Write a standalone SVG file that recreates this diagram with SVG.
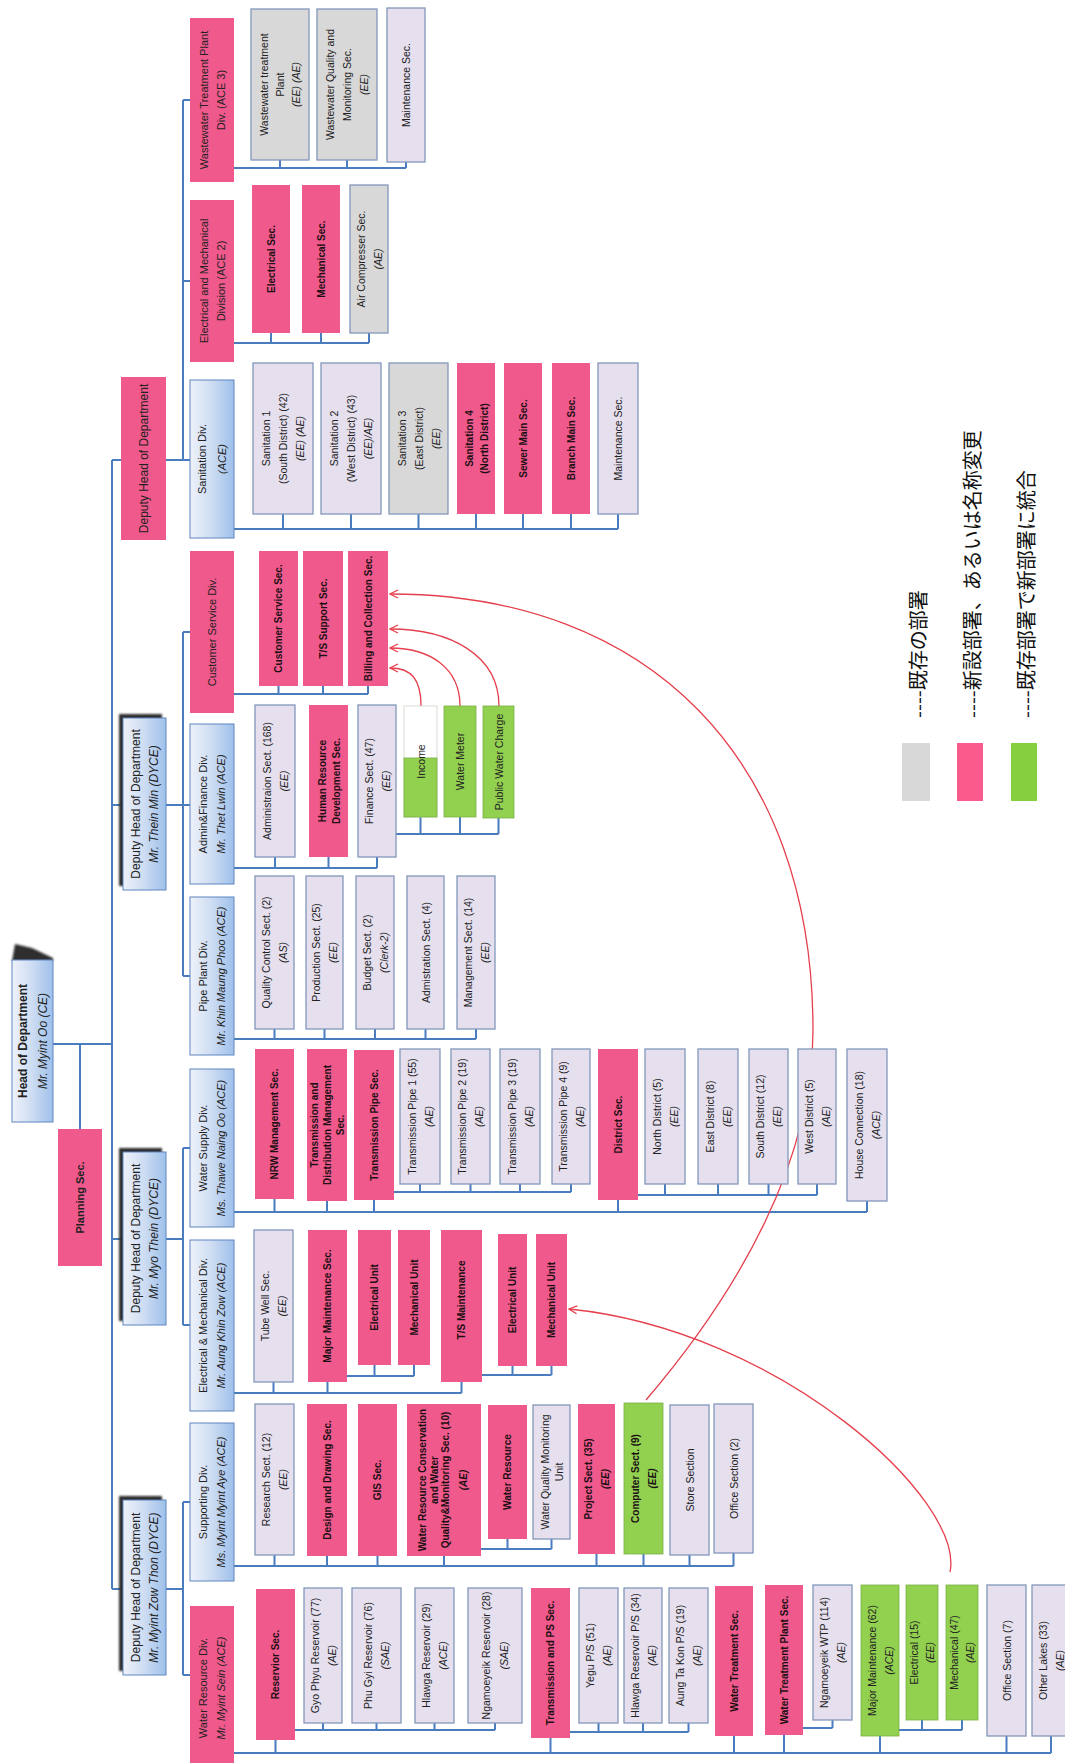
<svg xmlns="http://www.w3.org/2000/svg" width="1065" height="1763" viewBox="0 0 1065 1763">
<style>
text{font-family:"Liberation Sans",Arial,sans-serif;text-anchor:middle;dominant-baseline:central;fill:#222}
tspan{dominant-baseline:central}
.s{font-size:10.5px}
.b{font-size:10px;font-weight:bold;fill:#1c1014}
.d{font-size:11px}
.h{font-size:12px}
.i{font-style:italic}
.w{font-weight:bold}
.pk{fill:#f0598c}
.lv{fill:#e5dfee;stroke:#8397bb;stroke-width:1.3}
.gy{fill:#d8d8d8;stroke:#8397bb;stroke-width:1.3}
.gr{fill:#92d050;stroke:#7aae45;stroke-width:0.8}
.wh{fill:#ffffff;stroke:#cfd6c8;stroke-width:0.8}
.dv{fill:url(#blu);stroke:#5f86c2;stroke-width:1}
.sh{fill:#2e2e2e;filter:url(#blur)}
#connectors path{fill:none;stroke:#4a7cc0;stroke-width:2}
#arrows path{fill:none;stroke:#e5404d;stroke-width:1.3;marker-end:url(#ah)}
.jp{font-family:"Noto Sans CJK JP",sans-serif;font-size:20px;text-anchor:start;fill:#111}
</style>
<defs>
<linearGradient id="blu" x1="0" y1="0" x2="1" y2="0">
<stop offset="0" stop-color="#eef2fa"/>
<stop offset="0.5" stop-color="#cddcf2"/>
<stop offset="1" stop-color="#9ec0ea"/>
</linearGradient>
<filter id="blur" x="-20%" y="-20%" width="140%" height="140%"><feGaussianBlur stdDeviation="1.2"/></filter>
<marker id="ah" viewBox="0 0 10 10" refX="9" refY="5" markerWidth="10" markerHeight="10" markerUnits="userSpaceOnUse" orient="auto">
<path d="M1,1 L9,5 L1,9" fill="none" stroke="#e5404d" stroke-width="1.3"/>
</marker>
</defs>
<rect x="0" y="0" width="1065" height="1763" fill="#ffffff"/>

<!-- reporting lines -->
<g id="connectors">
<path d="M53,1044H112 M80,1044V1129 M112,460V1589 M112,460H121 M112,805H123 M112,1239H123 M112,1589H123"/>
<path d="M166,460H183 M183,100V460 M183,100H190 M183,281H190 M183,460H190"/>
<path d="M166,805H190 M183,632V976 M183,632H190 M183,976H190"/>
<path d="M166,1239H183 M183,1148V1325 M183,1148H190 M183,1325H190"/>
<path d="M166,1589H183 M183,1502V1675 M183,1502H190 M183,1675H190"/>
<path d="M234,168H406 M280,160V168 M347,160V168 M406,162V168"/>
<path d="M234,343H369 M271,333V343 M321,333V343 M369,333V343"/>
<path d="M234,529H618 M283,514V529 M351,514V529 M418.5,514V529 M476,514V529 M523,514V529 M571,514V529 M618,514V529"/>
<path d="M234,694H368 M278.5,686V694 M323,686V694 M368,686V694"/>
<path d="M234,868H377 M275,857V868 M328.5,857V868 M377,857V868"/>
<path d="M396,834H498.5 M420.5,817V834 M460,817V834 M498.5,818V834"/>
<path d="M234,1039H476 M274.5,1029V1039 M324.5,1029V1039 M375,1029V1039 M425.5,1029V1039 M476,1029V1039"/>
<path d="M234,1212H867 M274.5,1199V1212 M327,1201V1212 M374,1200V1212 M618,1200V1212 M867,1201V1212"/>
<path d="M394,1192H571 M420,1184V1192 M470.5,1184V1192 M520,1184V1192 M571,1184V1192"/>
<path d="M638,1195H817 M665,1184V1195 M718,1184V1195 M768.5,1184V1195 M817,1184V1195"/>
<path d="M234,1393H461.5 M273.5,1382V1393 M327.5,1382V1393 M461.5,1382V1393"/>
<path d="M347,1376H414 M374.5,1365V1376 M414,1365V1376"/>
<path d="M482,1375H551.5 M512.5,1366V1375 M551.5,1366V1375"/>
<path d="M234,1566H733.5 M274.5,1555V1566 M327,1556V1566 M377.5,1556V1566 M444,1556V1566 M596.5,1554V1566 M643.5,1554V1566 M689.5,1555V1566 M733.5,1553V1566"/>
<path d="M481,1549H551.5 M507.5,1539V1549 M551.5,1539V1549"/>
<path d="M234,1753H1051 M275.5,1740V1753 M550.5,1738V1753 M734,1736V1753 M784,1735V1753 M880,1736V1753 M1006.5,1736V1753 M1051,1736V1753"/>
<path d="M295,1730H495 M323,1723V1730 M376.5,1723V1730 M434.5,1723V1730 M495,1723V1730"/>
<path d="M570,1732H688.5 M598.5,1723V1732 M643,1723V1732 M688.5,1723V1732"/>
<path d="M803,1728H832.5 M832.5,1720V1728"/>
<path d="M899,1730H962 M922,1720V1730 M962,1720V1730"/>
</g>

<!-- transfer arrows -->
<g id="arrows">
<path d="M646,1400 C740,1290 813,1160 813,1030 C813,760 650,594 390,594"/>
<path d="M950,1572 C965,1500 780,1330 569,1309"/>
<path d="M421,706 C421,680 412,668 390,668"/>
<path d="M460,706 C460,668 430,648 390,648"/>
<path d="M499,706 C499,655 450,629 390,629"/>
</g>

<!-- top management -->
<g id="head">
<polygon class="sh" points="12,961 15,944 32,948 53,958 53,961"/>
<rect class="dv" x="12" y="960" width="41" height="162"/>
<text class="h" transform="translate(32.5,1041) rotate(-90)"><tspan class="w" x="0" y="-10">Head of Department</tspan><tspan class="i" x="0" y="10">Mr. Myint Oo (CE)</tspan></text>
</g>
<g id="planning">
<rect class="pk" x="58" y="1129" width="44" height="137"/>
<text class="d w" transform="translate(80,1197.5) rotate(-90)">Planning Sec.</text>
</g>
<g id="deputy-0">
<rect class="pk" x="121" y="377" width="45" height="163"/>
<text class="h" transform="translate(143.5,458.5) rotate(-90)">Deputy Head of Department</text>
</g>
<g id="deputy-1">
<rect class="sh" x="119" y="714" width="43" height="172"/>
<rect class="dv" x="123" y="718" width="43" height="172"/>
<text class="h" transform="translate(144.5,804) rotate(-90)"><tspan x="0" y="-9">Deputy Head of Department</tspan><tspan class="i" x="0" y="9">Mr. Thein Min (DYCE)</tspan></text>
</g>
<g id="deputy-2">
<rect class="sh" x="119" y="1148" width="43" height="173"/>
<rect class="dv" x="123" y="1152" width="43" height="173"/>
<text class="h" transform="translate(144.5,1238.5) rotate(-90)"><tspan x="0" y="-9">Deputy Head of Department</tspan><tspan class="i" x="0" y="9">Mr. Myo Thein (DYCE)</tspan></text>
</g>
<g id="deputy-3">
<rect class="sh" x="119" y="1496" width="43" height="175"/>
<rect class="dv" x="123" y="1500" width="43" height="175"/>
<text class="h" transform="translate(144.5,1587.5) rotate(-90)"><tspan x="0" y="-9">Deputy Head of Department</tspan><tspan class="i" x="0" y="9">Mr. Myint Zow Thon (DYCE)</tspan></text>
</g>

<!-- divisions -->
<g id="div-wwtp">
<rect class="pk" x="190" y="18" width="44" height="164"/>
<text class="d" transform="translate(212,100) rotate(-90)"><tspan x="0" y="-8.5">Wastewater Treatment Plant</tspan><tspan x="0" y="8.5">Div. (ACE 3)</tspan></text>
</g>
<g id="div-em2">
<rect class="pk" x="190" y="200" width="44" height="162"/>
<text class="d" transform="translate(212,281) rotate(-90)"><tspan x="0" y="-8.5">Electrical and Mechanical</tspan><tspan x="0" y="8.5">Division (ACE 2)</tspan></text>
</g>
<g id="div-sanitation">
<rect class="dv" x="190" y="380" width="44" height="158"/>
<text class="d" transform="translate(212,459) rotate(-90)"><tspan x="0" y="-10">Sanitation Div.</tspan><tspan class="i" x="0" y="10">(ACE)</tspan></text>
</g>
<g id="div-customer">
<rect class="pk" x="190" y="551" width="44" height="162"/>
<text class="d" transform="translate(212,632) rotate(-90)">Customer Service Div.</text>
</g>
<g id="div-admin">
<rect class="dv" x="190" y="724" width="44" height="160"/>
<text class="d" transform="translate(212,804) rotate(-90)"><tspan x="0" y="-9">Admin&amp;Finance Div.</tspan><tspan class="i" x="0" y="9">Mr. Thet Lwin (ACE)</tspan></text>
</g>
<g id="div-pipe">
<rect class="dv" x="190" y="897" width="44" height="158"/>
<text class="d" transform="translate(212,976) rotate(-90)"><tspan x="0" y="-9">Pipe Plant Div.</tspan><tspan class="i" x="0" y="9">Mr. Khin Maung Phoo (ACE)</tspan></text>
</g>
<g id="div-supply">
<rect class="dv" x="190" y="1069" width="44" height="158"/>
<text class="d" transform="translate(212,1148) rotate(-90)"><tspan x="0" y="-9">Water Supply Div.</tspan><tspan class="i" x="0" y="9">Ms. Thawe Naing Oo (ACE)</tspan></text>
</g>
<g id="div-em">
<rect class="dv" x="190" y="1240" width="44" height="171"/>
<text class="d" transform="translate(212,1325.5) rotate(-90)"><tspan x="0" y="-9">Electrical &amp; Mechanical Div.</tspan><tspan class="i" x="0" y="9">Mr. Aung Khin Zow (ACE)</tspan></text>
</g>
<g id="div-supporting">
<rect class="dv" x="190" y="1423" width="44" height="158"/>
<text class="d" transform="translate(212,1502) rotate(-90)"><tspan x="0" y="-9">Supporting Div.</tspan><tspan class="i" x="0" y="9">Ms. Myint Myint Aye (ACE)</tspan></text>
</g>
<g id="div-resource">
<rect class="pk" x="190" y="1606" width="44" height="164"/>
<text class="d" transform="translate(212,1688) rotate(-90)"><tspan x="0" y="-9">Water Resource Div.</tspan><tspan class="i" x="0" y="9">Mr. Myint Sein (ACE)</tspan></text>
</g>

<!-- wastewater treatment plant sections -->
<g id="ww-plant">
<rect class="gy" x="251" y="9" width="58" height="151"/>
<text class="s" transform="translate(280,84.5) rotate(-90)"><tspan x="0" y="-16">Wastewater treatment</tspan><tspan x="0" y="0">Plant</tspan><tspan class="i" x="0" y="16">(EE) (AE)</tspan></text>
</g>
<g id="ww-quality">
<rect class="gy" x="317" y="9" width="60" height="151"/>
<text class="s" transform="translate(347,84.5) rotate(-90)"><tspan x="0" y="-17">Wastewater Quality and</tspan><tspan x="0" y="0">Monitoring Sec.</tspan><tspan class="i" x="0" y="17">(EE)</tspan></text>
</g>
<g id="ww-maint">
<rect class="lv" x="387" y="8" width="38" height="154"/>
<text class="s" transform="translate(406,85) rotate(-90)">Maintenance Sec.</text>
</g>

<!-- electrical and mechanical (ACE 2) sections -->
<g id="em2-elec">
<rect class="pk" x="252" y="185" width="38" height="148"/>
<text class="b" transform="translate(271,259) rotate(-90)">Electrical Sec.</text>
</g>
<g id="em2-mech">
<rect class="pk" x="302" y="185" width="38" height="148"/>
<text class="b" transform="translate(321,259) rotate(-90)">Mechanical Sec.</text>
</g>
<g id="em2-air">
<rect class="gy" x="350" y="185" width="38" height="148"/>
<text class="s" transform="translate(369,259) rotate(-90)"><tspan x="0" y="-8.5">Air Compresser Sec.</tspan><tspan class="i" x="0" y="8.5">(AE)</tspan></text>
</g>

<!-- sanitation sections -->
<g id="san-1">
<rect class="lv" x="253" y="363" width="60" height="151"/>
<text class="s" transform="translate(283,438.5) rotate(-90)"><tspan x="0" y="-17">Sanitation 1</tspan><tspan x="0" y="0">(South District) (42)</tspan><tspan class="i" x="0" y="17">(EE) (AE)</tspan></text>
</g>
<g id="san-2">
<rect class="lv" x="321" y="363" width="60" height="151"/>
<text class="s" transform="translate(351,438.5) rotate(-90)"><tspan x="0" y="-17">Sanitation 2</tspan><tspan x="0" y="0">(West District) (43)</tspan><tspan class="i" x="0" y="17">(EE)/AE)</tspan></text>
</g>
<g id="san-3">
<rect class="gy" x="389" y="363" width="59" height="151"/>
<text class="s" transform="translate(418.5,438.5) rotate(-90)"><tspan x="0" y="-17">Sanitation 3</tspan><tspan x="0" y="0">(East District)</tspan><tspan class="i" x="0" y="17">(EE)</tspan></text>
</g>
<g id="san-4">
<rect class="pk" x="457" y="363" width="38" height="151"/>
<text class="b" transform="translate(476,438.5) rotate(-90)"><tspan x="0" y="-7.5">Sanitation 4</tspan><tspan x="0" y="7.5">(North District)</tspan></text>
</g>
<g id="san-sewer">
<rect class="pk" x="504" y="363" width="38" height="151"/>
<text class="b" transform="translate(523,438.5) rotate(-90)">Sewer Main Sec.</text>
</g>
<g id="san-branch">
<rect class="pk" x="552" y="363" width="38" height="151"/>
<text class="b" transform="translate(571,438.5) rotate(-90)">Branch Main Sec.</text>
</g>
<g id="san-maint">
<rect class="lv" x="598" y="363" width="40" height="151"/>
<text class="s" transform="translate(618,438.5) rotate(-90)">Maintenance Sec.</text>
</g>

<!-- customer service sections -->
<g id="cs-sec">
<rect class="pk" x="259" y="551" width="39" height="135"/>
<text class="b" transform="translate(278.5,618.5) rotate(-90)">Customer Service Sec.</text>
</g>
<g id="cs-ts">
<rect class="pk" x="303" y="551" width="40" height="135"/>
<text class="b" transform="translate(323,618.5) rotate(-90)">T/S Support Sec.</text>
</g>
<g id="cs-billing">
<rect class="pk" x="348" y="551" width="40" height="135"/>
<text class="b" transform="translate(368,618.5) rotate(-90)">Billing and Collection Sec.</text>
</g>

<!-- admin and finance sections -->
<g id="af-admin">
<rect class="lv" x="255" y="705" width="40" height="152"/>
<text class="s" transform="translate(275,781) rotate(-90)"><tspan x="0" y="-8.5">Administraion Sect. (168)</tspan><tspan class="i" x="0" y="8.5">(EE)</tspan></text>
</g>
<g id="af-hrd">
<rect class="pk" x="309" y="705" width="39" height="152"/>
<text class="b" transform="translate(328.5,781) rotate(-90)"><tspan x="0" y="-7">Human Resource</tspan><tspan x="0" y="7">Development Sec.</tspan></text>
</g>
<g id="af-finance">
<rect class="lv" x="358" y="705" width="38" height="152"/>
<text class="s" transform="translate(377,781) rotate(-90)"><tspan x="0" y="-8.5">Finance Sect. (47)</tspan><tspan class="i" x="0" y="8.5">(EE)</tspan></text>
</g>
<g id="fin-income">
<rect class="wh" x="404" y="706" width="33" height="111"/>
<rect class="gr" x="404" y="758" width="33" height="59"/>
<text class="s" transform="translate(420.5,761.5) rotate(-90)">Income</text>
</g>
<g id="fin-meter">
<rect class="gr" x="444" y="706" width="32" height="111"/>
<text class="s" transform="translate(460,761.5) rotate(-90)">Water Meter</text>
</g>
<g id="fin-charge">
<rect class="gr" x="483" y="706" width="31" height="112"/>
<text class="s" transform="translate(498.5,762) rotate(-90)">Public Water Charge</text>
</g>

<!-- pipe plant sections -->
<g id="pp-qc">
<rect class="lv" x="255" y="876" width="39" height="153"/>
<text class="s" transform="translate(274.5,952.5) rotate(-90)"><tspan x="0" y="-8.5">Quality Control Sect. (2)</tspan><tspan class="i" x="0" y="8.5">(AS)</tspan></text>
</g>
<g id="pp-prod">
<rect class="lv" x="306" y="876" width="37" height="153"/>
<text class="s" transform="translate(324.5,952.5) rotate(-90)"><tspan x="0" y="-8.5">Production Sect. (25)</tspan><tspan class="i" x="0" y="8.5">(EE)</tspan></text>
</g>
<g id="pp-budget">
<rect class="lv" x="356" y="876" width="38" height="153"/>
<text class="s" transform="translate(375,952.5) rotate(-90)"><tspan x="0" y="-8.5">Budget Sect. (2)</tspan><tspan class="i" x="0" y="8.5">(Clerk-2)</tspan></text>
</g>
<g id="pp-admin">
<rect class="lv" x="407" y="876" width="37" height="153"/>
<text class="s" transform="translate(425.5,952.5) rotate(-90)">Admistration Sect. (4)</text>
</g>
<g id="pp-mgmt">
<rect class="lv" x="457" y="876" width="38" height="153"/>
<text class="s" transform="translate(476,952.5) rotate(-90)"><tspan x="0" y="-8.5">Management Sect. (14)</tspan><tspan class="i" x="0" y="8.5">(EE)</tspan></text>
</g>

<!-- water supply sections -->
<g id="ws-nrw">
<rect class="pk" x="255" y="1049" width="39" height="150"/>
<text class="b" transform="translate(274.5,1124) rotate(-90)">NRW Management Sec.</text>
</g>
<g id="ws-tdm">
<rect class="pk" x="307" y="1049" width="40" height="152"/>
<text class="b" transform="translate(327,1125) rotate(-90)"><tspan x="0" y="-13">Transmission and</tspan><tspan x="0" y="0">Distribution Management</tspan><tspan x="0" y="13">Sec.</tspan></text>
</g>
<g id="ws-tps">
<rect class="pk" x="354" y="1050" width="40" height="150"/>
<text class="b" transform="translate(374,1125) rotate(-90)">Transmission Pipe Sec.</text>
</g>
<g id="ws-tp1">
<rect class="lv" x="400" y="1049" width="40" height="135"/>
<text class="s" transform="translate(420,1116.5) rotate(-90)"><tspan x="0" y="-8.5">Transmission Pipe 1 (55)</tspan><tspan class="i" x="0" y="8.5">(AE)</tspan></text>
</g>
<g id="ws-tp2">
<rect class="lv" x="451" y="1049" width="39" height="135"/>
<text class="s" transform="translate(470.5,1116.5) rotate(-90)"><tspan x="0" y="-8.5">Transmission Pipe 2 (19)</tspan><tspan class="i" x="0" y="8.5">(AE)</tspan></text>
</g>
<g id="ws-tp3">
<rect class="lv" x="500" y="1049" width="40" height="135"/>
<text class="s" transform="translate(520,1116.5) rotate(-90)"><tspan x="0" y="-8.5">Transmission Pipe 3 (19)</tspan><tspan class="i" x="0" y="8.5">(AE)</tspan></text>
</g>
<g id="ws-tp4">
<rect class="lv" x="552" y="1049" width="38" height="135"/>
<text class="s" transform="translate(571,1116.5) rotate(-90)"><tspan x="0" y="-8.5">Transmission Pipe 4 (9)</tspan><tspan class="i" x="0" y="8.5">(AE)</tspan></text>
</g>
<g id="ws-district">
<rect class="pk" x="598" y="1049" width="40" height="151"/>
<text class="b" transform="translate(618,1124.5) rotate(-90)">District Sec.</text>
</g>
<g id="ws-north">
<rect class="lv" x="645" y="1049" width="40" height="135"/>
<text class="s" transform="translate(665,1116.5) rotate(-90)"><tspan x="0" y="-8.5">North District (5)</tspan><tspan class="i" x="0" y="8.5">(EE)</tspan></text>
</g>
<g id="ws-east">
<rect class="lv" x="698" y="1049" width="40" height="135"/>
<text class="s" transform="translate(718,1116.5) rotate(-90)"><tspan x="0" y="-8.5">East District (8)</tspan><tspan class="i" x="0" y="8.5">(EE)</tspan></text>
</g>
<g id="ws-south">
<rect class="lv" x="749" y="1049" width="39" height="135"/>
<text class="s" transform="translate(768.5,1116.5) rotate(-90)"><tspan x="0" y="-8.5">South District (12)</tspan><tspan class="i" x="0" y="8.5">(EE)</tspan></text>
</g>
<g id="ws-west">
<rect class="lv" x="798" y="1049" width="38" height="135"/>
<text class="s" transform="translate(817,1116.5) rotate(-90)"><tspan x="0" y="-8.5">West District (5)</tspan><tspan class="i" x="0" y="8.5">(AE)</tspan></text>
</g>
<g id="ws-house">
<rect class="lv" x="847" y="1049" width="40" height="152"/>
<text class="s" transform="translate(867,1125) rotate(-90)"><tspan x="0" y="-8.5">House Connection (18)</tspan><tspan class="i" x="0" y="8.5">(ACE)</tspan></text>
</g>

<!-- electrical and mechanical sections -->
<g id="em-tube">
<rect class="lv" x="254" y="1230" width="39" height="152"/>
<text class="s" transform="translate(273.5,1306) rotate(-90)"><tspan x="0" y="-8.5">Tube Well Sec.</tspan><tspan class="i" x="0" y="8.5">(EE)</tspan></text>
</g>
<g id="em-major">
<rect class="pk" x="308" y="1230" width="39" height="152"/>
<text class="b" transform="translate(327.5,1306) rotate(-90)">Major Maintenance Sec.</text>
</g>
<g id="em-elec-1">
<rect class="pk" x="358" y="1230" width="33" height="135"/>
<text class="b" transform="translate(374.5,1297.5) rotate(-90)">Electrical Unit</text>
</g>
<g id="em-mech-1">
<rect class="pk" x="398" y="1230" width="32" height="135"/>
<text class="b" transform="translate(414,1297.5) rotate(-90)">Mechanical Unit</text>
</g>
<g id="em-ts">
<rect class="pk" x="441" y="1230" width="41" height="152"/>
<text class="b" transform="translate(461.5,1300) rotate(-90)">T/S Maintenance</text>
</g>
<g id="em-elec-2">
<rect class="pk" x="498" y="1234" width="29" height="132"/>
<text class="b" transform="translate(512.5,1300) rotate(-90)">Electrical Unit</text>
</g>
<g id="em-mech-2">
<rect class="pk" x="536" y="1234" width="31" height="132"/>
<text class="b" transform="translate(551.5,1300) rotate(-90)">Mechanical Unit</text>
</g>

<!-- supporting sections -->
<g id="sp-research">
<rect class="lv" x="255" y="1404" width="39" height="151"/>
<text class="s" transform="translate(274.5,1479.5) rotate(-90)"><tspan x="0" y="-8.5">Research Sect. (12)</tspan><tspan class="i" x="0" y="8.5">(EE)</tspan></text>
</g>
<g id="sp-design">
<rect class="pk" x="307" y="1404" width="40" height="152"/>
<text class="b" transform="translate(327,1480) rotate(-90)">Design and Drawing Sec.</text>
</g>
<g id="sp-gis">
<rect class="pk" x="358" y="1404" width="39" height="152"/>
<text class="b" transform="translate(377.5,1480) rotate(-90)">GIS Sec.</text>
</g>
<g id="sp-wrc">
<rect class="pk" x="407" y="1404" width="74" height="152"/>
<text class="b" transform="translate(444,1480) rotate(-90)"><tspan x="0" y="-22">Water Resource Conservation</tspan><tspan x="0" y="-10">and Water</tspan><tspan x="0" y="1">Quality&amp;Monitoring Sec. (10)</tspan><tspan class="i" x="0" y="19">(AE)</tspan></text>
</g>
<g id="sp-wres">
<rect class="pk" x="488" y="1405" width="39" height="134"/>
<text class="b" transform="translate(507.5,1472) rotate(-90)">Water Resource</text>
</g>
<g id="sp-wqmu">
<rect class="lv" x="533" y="1405" width="37" height="134"/>
<text class="s" transform="translate(551.5,1472) rotate(-90)"><tspan x="0" y="-7">Water Quality Monitoring</tspan><tspan x="0" y="7">Unit</tspan></text>
</g>
<g id="sp-project">
<rect class="pk" x="578" y="1404" width="37" height="150"/>
<text class="b" transform="translate(596.5,1479) rotate(-90)"><tspan x="0" y="-8.5">Project Sect. (35)</tspan><tspan class="i" x="0" y="8.5">(EE)</tspan></text>
</g>
<g id="sp-computer">
<rect class="gr" x="624" y="1403" width="39" height="151"/>
<text class="b" transform="translate(643.5,1478.5) rotate(-90)"><tspan x="0" y="-8.5">Computer Sect. (9)</tspan><tspan class="i" x="0" y="8.5">(EE)</tspan></text>
</g>
<g id="sp-store">
<rect class="lv" x="670" y="1405" width="39" height="150"/>
<text class="s" transform="translate(689.5,1480) rotate(-90)">Store Section</text>
</g>
<g id="sp-office">
<rect class="lv" x="714" y="1404" width="39" height="149"/>
<text class="s" transform="translate(733.5,1478.5) rotate(-90)">Office Section (2)</text>
</g>

<!-- water resource sections -->
<g id="wr-reservoir">
<rect class="pk" x="256" y="1589" width="39" height="151"/>
<text class="b" transform="translate(275.5,1664.5) rotate(-90)">Reservior Sec.</text>
</g>
<g id="wr-gyophyu">
<rect class="lv" x="304" y="1588" width="38" height="135"/>
<text class="s" transform="translate(323,1655.5) rotate(-90)"><tspan x="0" y="-8.5">Gyo Phyu Reservoir (77)</tspan><tspan class="i" x="0" y="8.5">(AE)</tspan></text>
</g>
<g id="wr-phugyi">
<rect class="lv" x="352" y="1588" width="49" height="135"/>
<text class="s" transform="translate(376.5,1655.5) rotate(-90)"><tspan x="0" y="-8.5">Phu Gyi Reservoir (76)</tspan><tspan class="i" x="0" y="8.5">(SAE)</tspan></text>
</g>
<g id="wr-hlawga">
<rect class="lv" x="415" y="1588" width="39" height="135"/>
<text class="s" transform="translate(434.5,1655.5) rotate(-90)"><tspan x="0" y="-8.5">Hlawga Reservoir (29)</tspan><tspan class="i" x="0" y="8.5">(ACE)</tspan></text>
</g>
<g id="wr-ngamoeyeik">
<rect class="lv" x="468" y="1588" width="54" height="135"/>
<text class="s" transform="translate(495,1655.5) rotate(-90)"><tspan x="0" y="-9">Ngamoeyeik Reservoir (28)</tspan><tspan class="i" x="0" y="9">(SAE)</tspan></text>
</g>
<g id="wr-tps">
<rect class="pk" x="531" y="1588" width="39" height="150"/>
<text class="b" transform="translate(550.5,1663) rotate(-90)">Transmission and PS Sec.</text>
</g>
<g id="wr-yegu">
<rect class="lv" x="579" y="1588" width="39" height="135"/>
<text class="s" transform="translate(598.5,1655.5) rotate(-90)"><tspan x="0" y="-8.5">Yegu P/S (51)</tspan><tspan class="i" x="0" y="8.5">(AE)</tspan></text>
</g>
<g id="wr-hlawgaps">
<rect class="lv" x="624" y="1588" width="38" height="135"/>
<text class="s" transform="translate(643,1655.5) rotate(-90)"><tspan x="0" y="-8.5">Hlawga Reservoir P/S (34)</tspan><tspan class="i" x="0" y="8.5">(AE)</tspan></text>
</g>
<g id="wr-aungtakon">
<rect class="lv" x="669" y="1588" width="39" height="135"/>
<text class="s" transform="translate(688.5,1655.5) rotate(-90)"><tspan x="0" y="-8.5">Aung Ta Kon P/S (19)</tspan><tspan class="i" x="0" y="8.5">(AE)</tspan></text>
</g>
<g id="wr-wts">
<rect class="pk" x="715" y="1586" width="38" height="150"/>
<text class="b" transform="translate(734,1661) rotate(-90)">Water Treatment Sec.</text>
</g>
<g id="wr-wtps">
<rect class="pk" x="765" y="1585" width="38" height="150"/>
<text class="b" transform="translate(784,1660) rotate(-90)">Water Treatment Plant  Sec.</text>
</g>
<g id="wr-ngwtp">
<rect class="lv" x="813" y="1585" width="39" height="135"/>
<text class="s" transform="translate(832.5,1652.5) rotate(-90)"><tspan x="0" y="-8.5">Ngamoeyeik WTP (114)</tspan><tspan class="i" x="0" y="8.5">(AE)</tspan></text>
</g>
<g id="wr-major">
<rect class="gr" x="861" y="1585" width="38" height="151"/>
<text class="s" transform="translate(880,1660.5) rotate(-90)"><tspan x="0" y="-8.5">Major Maintenance (62)</tspan><tspan class="i" x="0" y="8.5">(ACE)</tspan></text>
</g>
<g id="wr-elec">
<rect class="gr" x="906" y="1585" width="32" height="135"/>
<text class="s" transform="translate(922,1652.5) rotate(-90)"><tspan x="0" y="-8">Electrical (15)</tspan><tspan class="i" x="0" y="8">(EE)</tspan></text>
</g>
<g id="wr-mech">
<rect class="gr" x="946" y="1585" width="32" height="135"/>
<text class="s" transform="translate(962,1652.5) rotate(-90)"><tspan x="0" y="-8">Mechanical (47)</tspan><tspan class="i" x="0" y="8">(AE)</tspan></text>
</g>
<g id="wr-office">
<rect class="lv" x="987" y="1585" width="39" height="151"/>
<text class="s" transform="translate(1006.5,1660.5) rotate(-90)">Office Section (7)</text>
</g>
<g id="wr-lakes">
<rect class="lv" x="1032" y="1585" width="38" height="151"/>
<text class="s" transform="translate(1051,1660.5) rotate(-90)"><tspan x="0" y="-8.5">Other Lakes (33)</tspan><tspan class="i" x="0" y="8.5">(AE)</tspan></text>
</g>

<!-- colour key -->
<g id="legend">
<rect x="902" y="743" width="28" height="58" fill="#d8d8d8"/>
<rect x="957" y="743" width="26" height="58" fill="#fb5a8c"/>
<rect x="1011" y="743" width="26" height="58" fill="#86cf3f"/>
<text class="jp" transform="translate(917,718) rotate(-90)">----既存の部署</text>
<text class="jp" transform="translate(971,718) rotate(-90)">----新設部署、あるいは名称変更</text>
<text class="jp" transform="translate(1025,718) rotate(-90)">----既存部署で新部署に統合</text>
</g>
</svg>
